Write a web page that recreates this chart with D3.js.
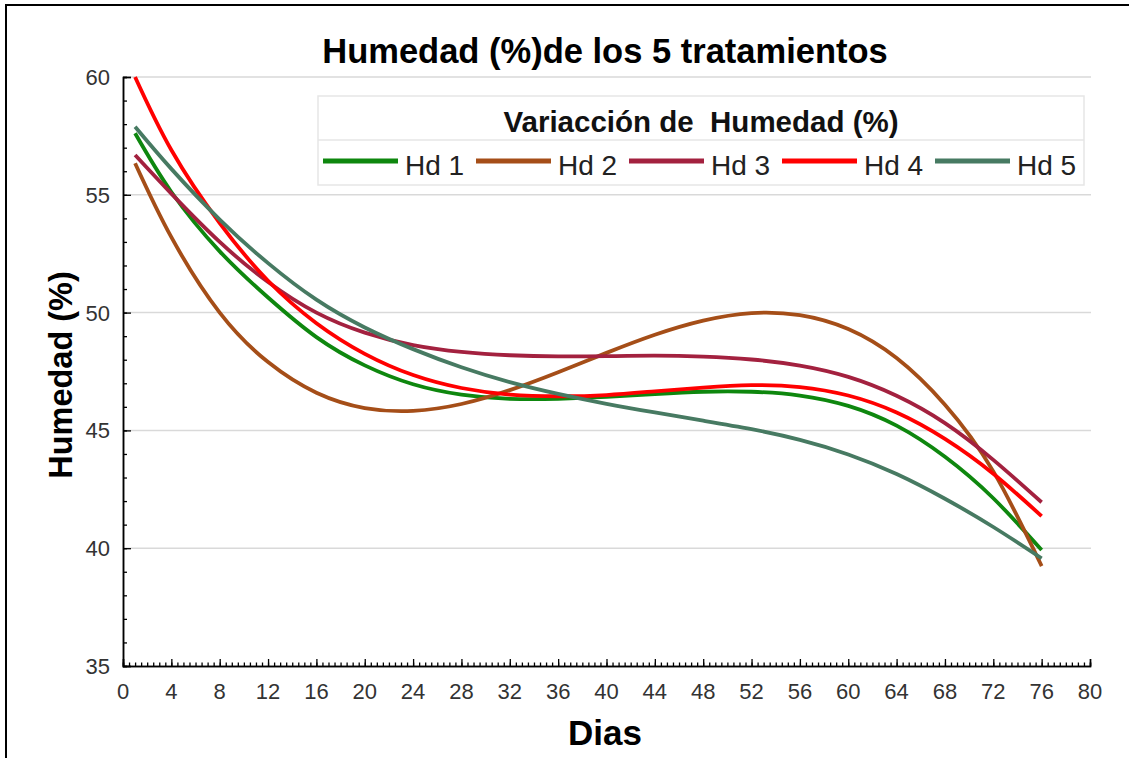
<!DOCTYPE html>
<html><head><meta charset="utf-8">
<script src="https://cdn.jsdelivr.net/npm/d3@7"></script>
<style>
html,body{margin:0;padding:0;background:#fff;}
text{font-family:Arial,"Liberation Sans",sans-serif;}
</style></head>
<body><svg id="c" width="1129" height="758"></svg>
<script>
const days = [1,4,8,12,16,20,24,28,32,36,40,44,48,52,56,60,64,68,72,76];
const hd1 = [57.61,55.12,52.6,50.64,48.96,47.76,46.96,46.52,46.34,46.34,46.42,46.54,46.64,46.64,46.48,46.04,45.2,43.88,42.12,39.92];
const hd2 = [56.34,53.2,50.0,47.9,46.6,45.95,45.83,46.12,46.71,47.47,48.29,49.06,49.66,49.98,49.89,49.30,48.07,46.09,43.26,39.24];
const hd3 = [56.69,55.05,53.0,51.3,50.0,49.15,48.62,48.33,48.19,48.14,48.15,48.17,48.13,48.01,47.75,47.27,46.47,45.31,43.75,41.95];
const hd4 = [60.0,56.9,53.8,51.35,49.55,48.25,47.35,46.8,46.52,46.45,46.5,46.66,46.82,46.92,46.84,46.48,45.76,44.64,43.16,41.36];
const hd5 = [57.89,56.1,53.95,52.1,50.55,49.37,48.45,47.68,47.05,46.55,46.13,45.76,45.41,45.05,44.6,43.98,43.15,42.1,40.9,39.57];
const seriesNames = ["Hd 1","Hd 2","Hd 3","Hd 4","Hd 5"];
const seriesValues = [hd1,hd2,hd3,hd4,hd5];
const colors = ["#0e870e","#a54e18","#a3213f","#ff0000","#477a62"];
const xTicks = d3.range(0,81,4);
const yTicks = [35,40,45,50,55,60];
const title = "Humedad (%)de los 5 tratamientos";
const xTitle = "Dias";
const yTitle = "Humedad (%)";
const legendTitle = "Variacción de  Humedad (%)";

const svg = d3.select("#c");
svg.append("rect").attr("x",6).attr("y",5).attr("width",1140).attr("height",770)
  .attr("fill","none").attr("stroke","#000").attr("stroke-width",2);

const x = d3.scaleLinear().domain([0,80]).range([123,1090]);
const y = d3.scaleLinear().domain([35,60]).range([666,77]);

svg.append("g").selectAll("line").data(yTicks.filter(d=>d>35)).join("line")
  .attr("x1",123).attr("x2",1091).attr("y1",d=>y(d)).attr("y2",d=>y(d))
  .attr("stroke","#d9d9d9").attr("stroke-width",1.5);

const yAxisMinor = d3.axisRight(y).tickValues(d3.range(35,61,1)).tickSize(4).tickFormat("");
const yg1 = svg.append("g").attr("transform","translate(123,0)").call(yAxisMinor);
const yAxis = d3.axisRight(y).tickValues(yTicks).tickSize(8).tickFormat("");
const yg2 = svg.append("g").attr("transform","translate(123,0)").call(yAxis);
[yg1,yg2].forEach(g=>{g.selectAll("path").attr("stroke","#000").attr("stroke-width",1.5);g.selectAll("line").attr("stroke","#000").attr("stroke-width",1.3);});
svg.append("g").selectAll("text").data(yTicks).join("text")
  .attr("x",110).attr("y",d=>y(d)+8).attr("text-anchor","end")
  .attr("font-size",22).attr("fill","#333").text(d=>d);

const xAxisMinor = d3.axisTop(x).tickValues(d3.range(0,80.01,0.5)).tickSize(3.5).tickFormat("");
const xg1 = svg.append("g").attr("transform","translate(0,666)").call(xAxisMinor);
const xAxis = d3.axisTop(x).tickValues(xTicks).tickSize(7).tickFormat("");
const xg2 = svg.append("g").attr("transform","translate(0,666)").call(xAxis);
[xg1,xg2].forEach(g=>{g.selectAll("path").attr("stroke","#000").attr("stroke-width",1.5);g.selectAll("line").attr("stroke","#000").attr("stroke-width",1.3);});
svg.append("g").selectAll("text").data(xTicks).join("text")
  .attr("x",d=>x(d)).attr("y",699).attr("text-anchor","middle")
  .attr("font-size",22).attr("fill","#333").text(d=>d);

const line = d3.line().x(d=>x(d[0])).y(d=>y(d[1])).curve(d3.curveNatural);
seriesValues.forEach((vals,i)=>{
  svg.append("path").datum(days.map((d,j)=>[d,vals[j]]))
    .attr("d",line).attr("fill","none").attr("stroke",colors[i])
    .attr("stroke-width",3.8).attr("stroke-linecap","butt");
});

const lg = svg.append("g");
lg.append("rect").attr("x",318).attr("y",96).attr("width",766).attr("height",89)
  .attr("fill","#fff").attr("stroke","#e6e6e6").attr("stroke-width",1.5);
lg.append("line").attr("x1",318).attr("x2",1084).attr("y1",140).attr("y2",140)
  .attr("stroke","#e6e6e6").attr("stroke-width",1.5);
lg.append("text").attr("x",701).attr("y",132).attr("text-anchor","middle")
  .style("white-space","pre")
  .attr("font-size",29.5).attr("font-weight","bold").attr("fill","#111").text(legendTitle);
seriesNames.forEach((n,i)=>{
  const x0 = 323 + i*153;
  lg.append("line").attr("x1",x0).attr("x2",x0+75).attr("y1",161).attr("y2",161)
    .attr("stroke",colors[i]).attr("stroke-width",5);
  lg.append("text").attr("x",x0+82).attr("y",175).attr("font-size",28)
    .attr("fill","#222").text(n);
});

svg.append("text").attr("x",605).attr("y",63).attr("text-anchor","middle")
  .attr("font-size",34.5).attr("font-weight","bold").attr("fill","#000").text(title);
svg.append("text").attr("x",605).attr("y",745).attr("text-anchor","middle")
  .attr("font-size",35).attr("font-weight","bold").attr("fill","#000").text(xTitle);
svg.append("text").attr("transform","translate(72,375) rotate(-90)").attr("text-anchor","middle")
  .attr("font-size",32.5).attr("font-weight","bold").attr("fill","#000").text(yTitle);
</script></body></html>
